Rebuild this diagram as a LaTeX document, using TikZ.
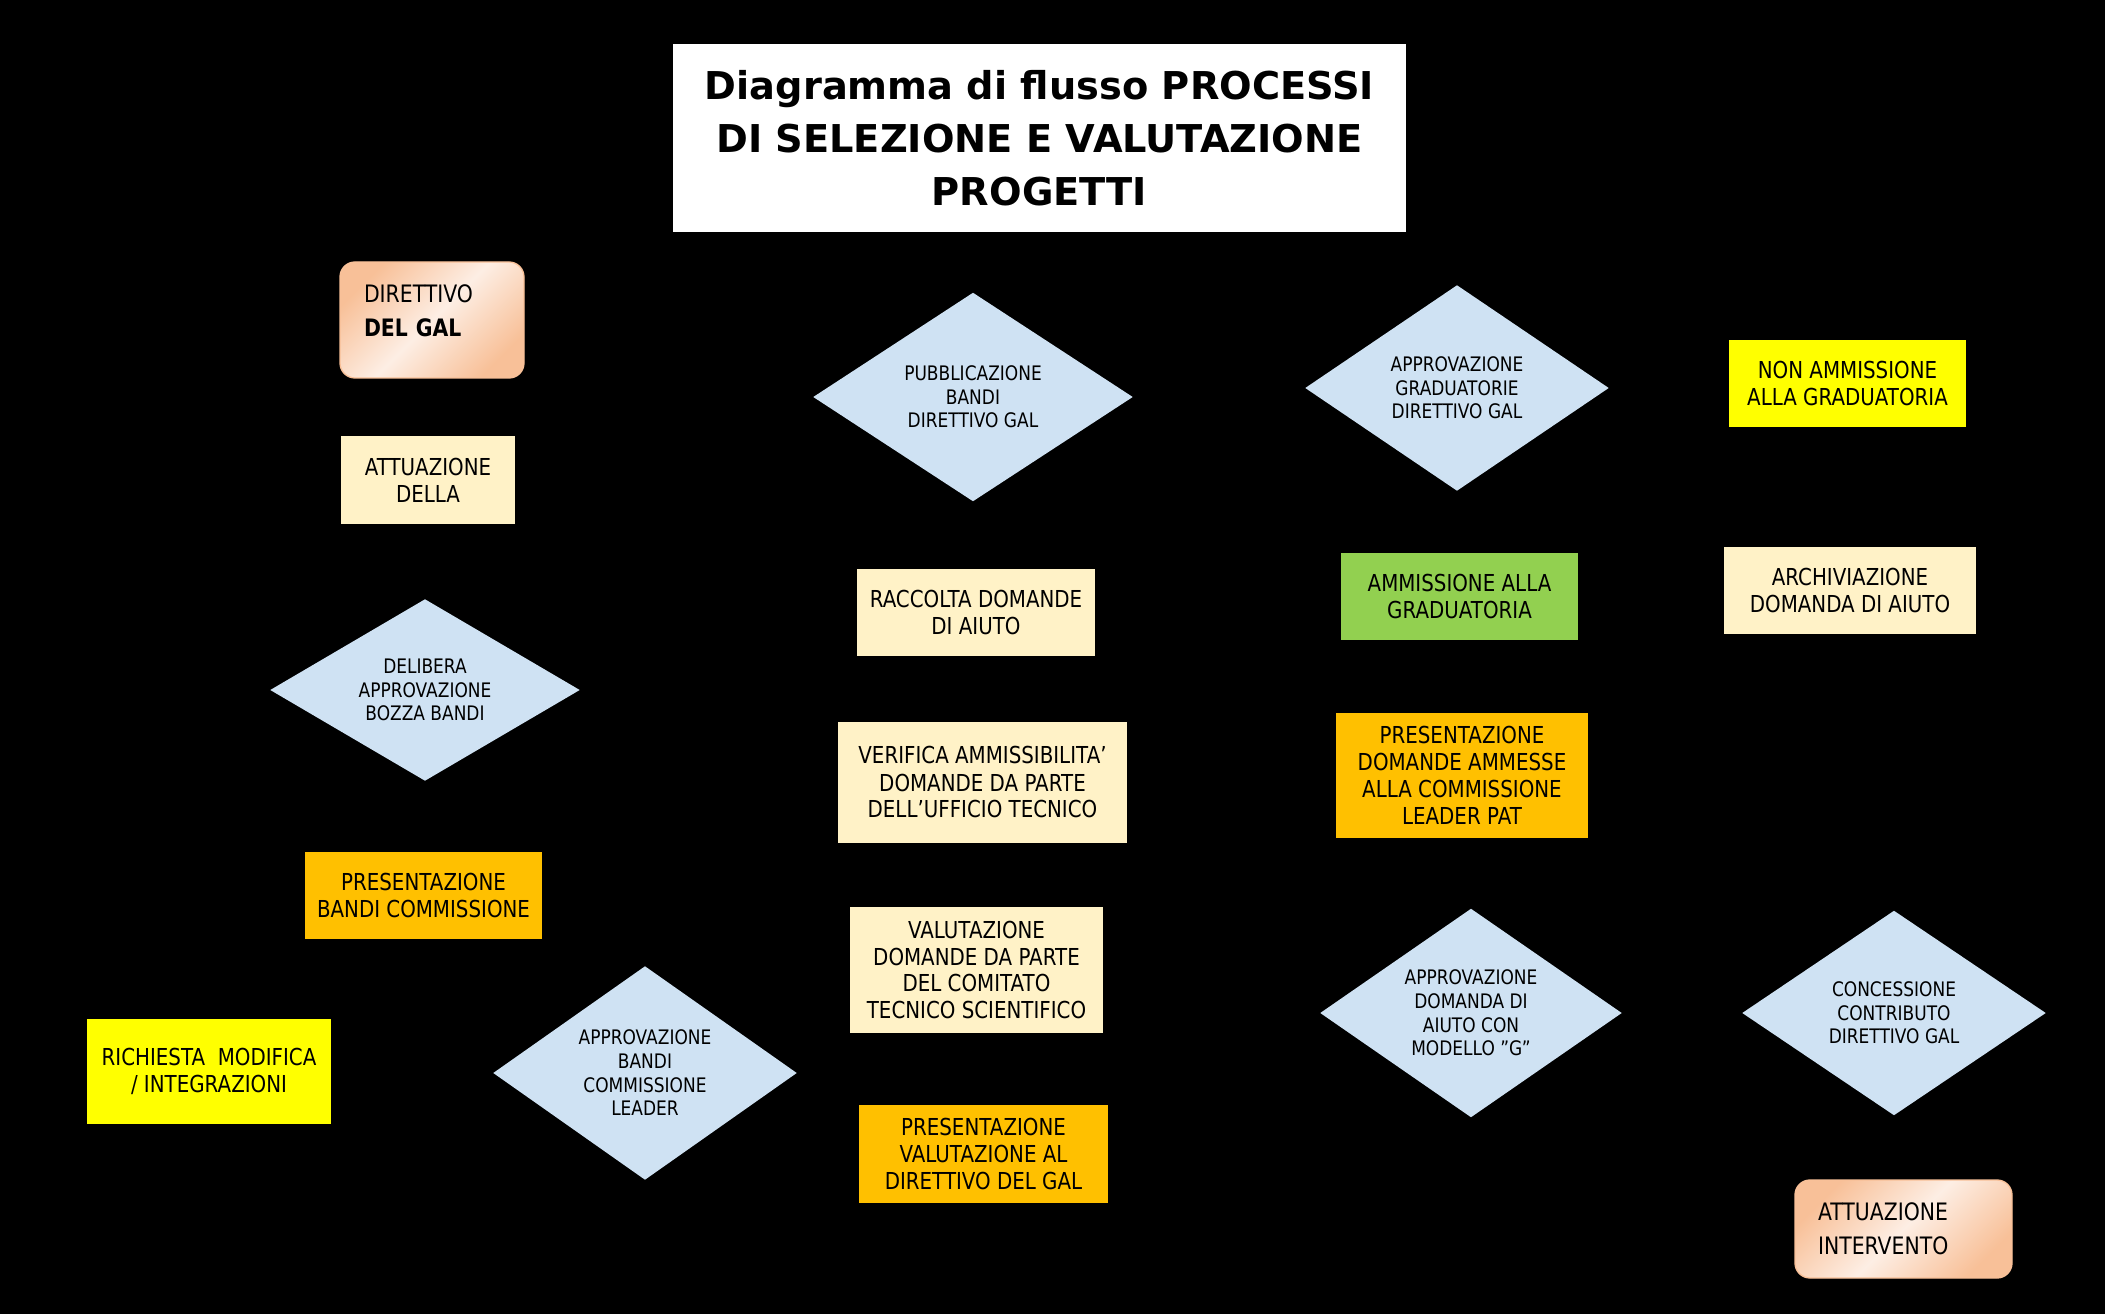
\documentclass[tikz,border=0pt]{standalone}
\usepackage{fontspec}
\setmainfont{DejaVu Sans}[FakeStretch=0.85]
\newfontfamily\titlefont{DejaVu Sans}
\usetikzlibrary{shapes.geometric}

\definecolor{diamblue}{RGB}{207,226,243}
\definecolor{paleyel}{RGB}{255,242,199}
\definecolor{ambra}{RGB}{255,192,0}
\definecolor{giallo}{RGB}{255,255,0}
\definecolor{verde}{RGB}{146,208,80}
\definecolor{pesca}{RGB}{248,192,152}
\definecolor{pescachiaro}{RGB}{253,238,228}

\begin{document}
\begin{tikzpicture}[x=0.3pt, y=-0.3pt,
    size/.style 2 args={minimum width=#1*0.3pt, minimum height=#2*0.3pt},
    box/.style={rectangle, inner sep=0pt, align=center,
                font=\fontsize{7}{8.1}\selectfont},
    decision/.style={diamond, aspect=1.5, fill=diamblue, inner sep=0pt,
                     align=center, font=\fontsize{6}{7.1}\selectfont},
    soft/.style={rectangle, rounded corners=4.5pt, draw=pesca, thin,
                 shading=axis, top color=pesca, bottom color=pesca,
                 middle color=pescachiaro, shading angle=45,
                 inner sep=0pt, align=left,
                 font=\fontsize{7.2}{10.2}\selectfont},
    title/.style={rectangle, fill=white, inner sep=0pt, align=center,
                  font=\titlefont\bfseries\fontsize{11.5}{15.9}\selectfont}
]

% sfondo
\fill[black] (0,0) rectangle (2105,1314);
\useasboundingbox (0,0) rectangle (2105,1314);

\node[title, size={733}{188}] (titolo) at (1039.5,138)
  {Diagramma di flusso PROCESSI\\DI SELEZIONE E VALUTAZIONE\\PROGETTI};

% colonna sinistra
\node[soft, size={184}{116}, text width=136*0.3pt] (direttivo) at (432,320)
  {DIRETTIVO\\\textbf{DEL GAL}\\[-4.8pt]\mbox{}};
\node[box, size={174}{88}, fill=paleyel] (attuazione) at (428,480)
  {ATTUAZIONE\\DELLA};
\node[decision, size={310}{182}] (delibera) at (425,690)
  {DELIBERA\\APPROVAZIONE\\BOZZA BANDI};
\node[box, size={237}{87}, fill=ambra] (presbandi) at (423.5,895.5)
  {PRESENTAZIONE\\BANDI COMMISSIONE};
\node[box, size={244}{105}, fill=giallo] (richiesta) at (209,1071.5)
  {RICHIESTA\ \ MODIFICA\\/ INTEGRAZIONI};
\node[decision, size={304}{214}] (appbandi) at (645,1073)
  {APPROVAZIONE\\BANDI\\COMMISSIONE\\LEADER};

% colonna centrale
\node[decision, size={320}{209}] (pubblica) at (973,397)
  {PUBBLICAZIONE\\BANDI\\DIRETTIVO GAL};
\node[box, size={238}{87}, fill=paleyel] (raccolta) at (976,612.5)
  {RACCOLTA DOMANDE\\DI AIUTO};
\node[box, size={289}{121}, fill=paleyel] (verifica) at (982.5,782.5)
  {VERIFICA AMMISSIBILITA'\\DOMANDE DA PARTE\\DELL'UFFICIO TECNICO};
\node[box, size={253}{126}, fill=paleyel] (valutaz) at (976.5,970)
  {VALUTAZIONE\\DOMANDE DA PARTE\\DEL COMITATO\\TECNICO SCIENTIFICO};
\node[box, size={249}{98}, fill=ambra] (presval) at (983.5,1154)
  {PRESENTAZIONE\\VALUTAZIONE AL\\DIRETTIVO DEL GAL};

% colonna destra
\node[decision, size={304}{206}] (appgrad) at (1457,388)
  {APPROVAZIONE\\GRADUATORIE\\DIRETTIVO GAL};
\node[box, size={237}{87}, fill=verde] (ammesse) at (1459.5,596.5)
  {AMMISSIONE ALLA\\GRADUATORIA};
\node[box, size={252}{125}, fill=ambra] (presdom) at (1462,775.5)
  {PRESENTAZIONE\\DOMANDE AMMESSE\\ALLA COMMISSIONE\\LEADER PAT};
\node[decision, size={302}{209}] (appdom) at (1471,1013)
  {APPROVAZIONE\\DOMANDA DI\\AIUTO CON\\MODELLO "G"};

\node[box, size={237}{87}, fill=giallo] (nonamm) at (1847.5,383.5)
  {NON AMMISSIONE\\ALLA GRADUATORIA};
\node[box, size={252}{87}, fill=paleyel] (archivio) at (1850,590.5)
  {ARCHIVIAZIONE\\DOMANDA DI AIUTO};
\node[decision, size={304}{205}] (concess) at (1894,1013)
  {CONCESSIONE\\CONTRIBUTO\\DIRETTIVO GAL};
\node[soft, size={217}{98}, text width=171*0.3pt] (intervento) at (1903.5,1229)
  {ATTUAZIONE\\INTERVENTO};

\end{tikzpicture}
\end{document}
